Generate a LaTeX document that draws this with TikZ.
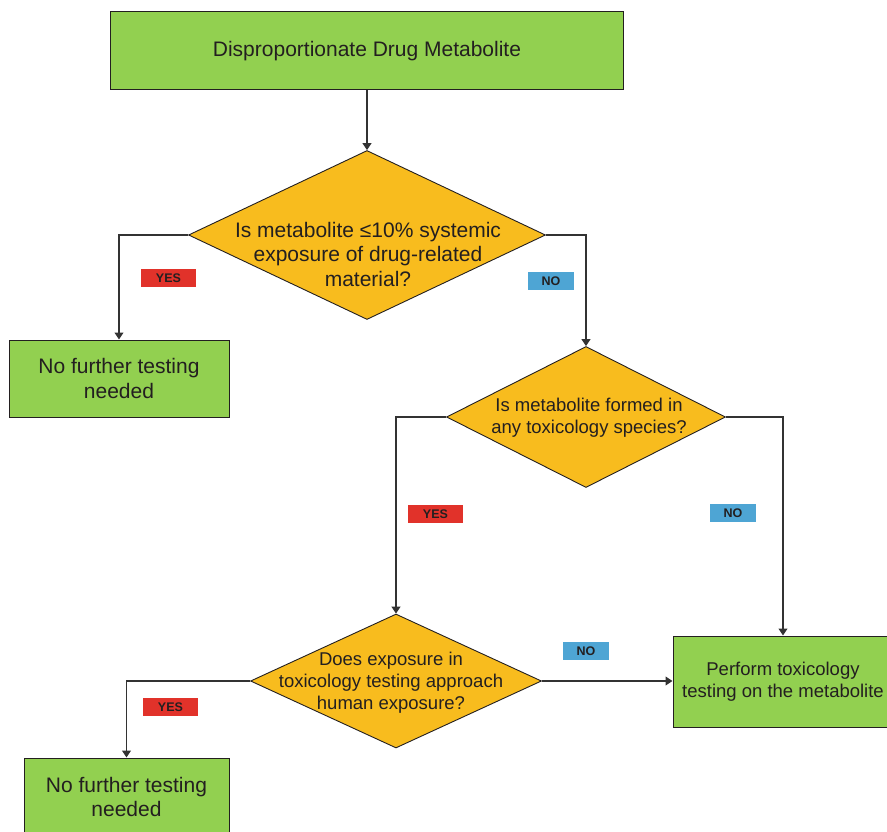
\documentclass[tikz,border=0pt]{standalone}
\usepackage{fontspec}
\setmainfont{Liberation Sans}
\usetikzlibrary{shapes.geometric,arrows.meta}
\definecolor{boxgreen}{HTML}{92D050}
\definecolor{diaorange}{HTML}{F8BC1E}
\definecolor{yesred}{HTML}{E1322A}
\definecolor{noblue}{HTML}{4EA5D4}
\definecolor{inkc}{HTML}{231F20}
\definecolor{linec}{HTML}{333333}
\tikzset{
  greenbox/.style={draw=inkc, line width=1pt, fill=boxgreen, inner sep=0pt, align=center, text=inkc},
  dia/.style={diamond, draw=inkc, line width=0.9pt, fill=diaorange, inner sep=0pt},
  txt/.style={align=center, text=inkc, inner sep=0pt},
  bigfont/.style={font=\fontsize{21}{24.5}\selectfont},
  midfont/.style={font=\fontsize{18.5}{22}\selectfont},
  tag/.style={inner sep=0pt, minimum height=18pt, font=\bfseries\fontsize{12.5}{14}\selectfont, text=inkc},
  yestag/.style={tag, fill=yesred, minimum width=55pt},
  notag/.style={tag, fill=noblue, minimum width=46pt},
  conn/.style={draw=linec, line width=1.2pt},
  arr/.style={conn, -{Triangle[length=7pt,width=9pt]}}
}
\begin{document}
\begin{tikzpicture}[x=1pt,y=-1pt]
\useasboundingbox (0,0) rectangle (887,832);
% boxes
\node[greenbox, bigfont, minimum width=513pt, minimum height=78pt] (top) at (367,51) {Disproportionate Drug Metabolite};
\node[greenbox, bigfont, minimum width=220pt, minimum height=77pt] (nf1) at (119,378.5) {No further testing\\needed};
\node[greenbox, midfont, minimum width=220pt, minimum height=91pt] (perf) at (783,681.5) {Perform toxicology\\testing on the metabolite};
\node[greenbox, bigfont, minimum width=205pt, minimum height=78pt] (nf2) at (126.5,797) {No further testing\\needed};
% diamonds
\node[dia, minimum width=357pt, minimum height=169pt] (d1) at (367,235) {};
\node[txt, bigfont] (t1) at (368,254) {Is metabolite ≤10\% systemic\\exposure of drug-related\\material?};
\node[dia, minimum width=279pt, minimum height=141pt] (d2) at (586,417) {};
\node[txt, midfont] (t2) at (589,417.5) {Is metabolite formed in\\any toxicology species?};
\node[dia, minimum width=291pt, minimum height=134pt] (d3) at (396,681) {};
\node[txt, midfont] (t3) at (391,682.5) {Does exposure in\\toxicology testing approach\\human exposure?};
% connectors
\draw[arr] (top.south) -- (d1.north);
\draw[arr] (d1.west) -| (nf1.north);
\draw[arr] (d1.east) -| (d2.north);
\draw[arr] (d2.west) -| (d3.north);
\draw[arr] (d2.east) -| (perf.north);
\draw[arr] (d3.east) -- (d3.east -| perf.west);
\draw[arr] (d3.west) -| (nf2.north);
% tags
\node[yestag] (y1) at (168.5,278) {YES};
\node[notag] (n1) at (551,281) {NO};
\node[yestag] (y2) at (435.5,514) {YES};
\node[notag] (n2) at (733,513) {NO};
\node[notag] (n3) at (586,651) {NO};
\node[yestag] (y3) at (170.5,707) {YES};
\end{tikzpicture}
\end{document}
